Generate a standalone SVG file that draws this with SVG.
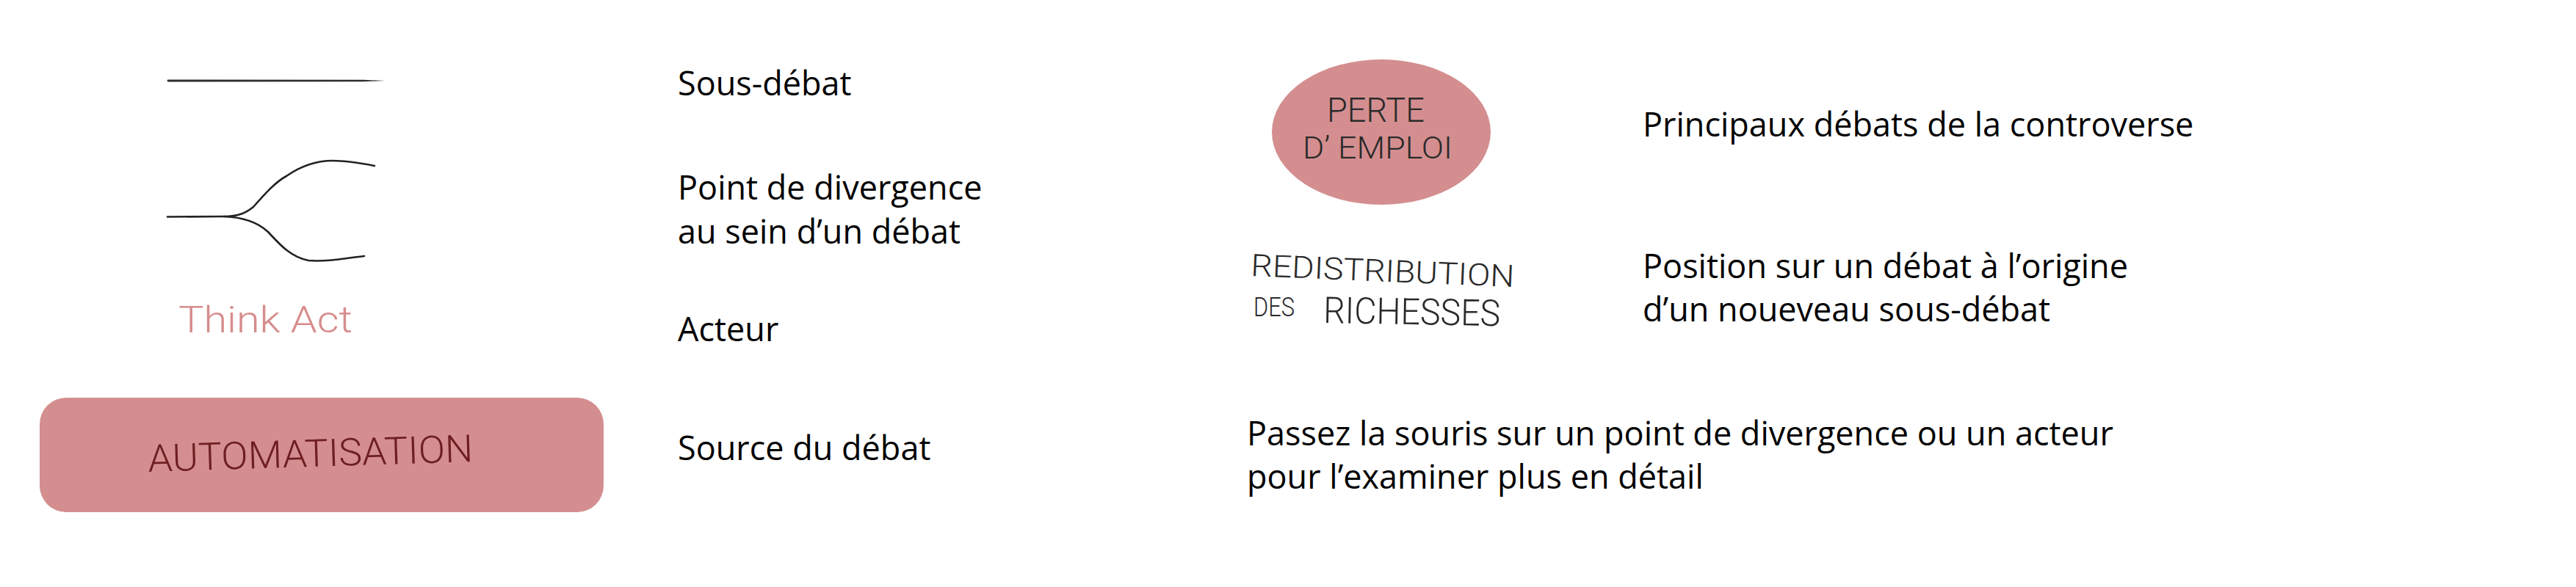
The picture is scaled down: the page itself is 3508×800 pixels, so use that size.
<svg xmlns="http://www.w3.org/2000/svg" width="3508" height="800" viewBox="0 0 3508 800">
<style>
.lbl{font-family:"Open Sans","Noto Sans","Liberation Sans",sans-serif;font-size:45px;fill:#000}
.hand{font-family:"Roboto","Open Sans","DejaVu Sans",sans-serif;font-weight:300}
.ink{fill:#2a2a2a}
.branch{fill:none;stroke:#222;stroke-width:2.6;stroke-linecap:round}
.pink{fill:#d48e8f}
</style>
<rect width="3508" height="800" fill="#fff"/>
<g id="connectors">
  <path id="sous-debat-line" d="M229,108.6 L495,108.8 L524,110 L495,111.2 L229,111.4 A1.4,1.4 0 0 1 229,108.6 Z" fill="#2e2e2e"/>
  <g id="divergence">
    <path class="branch" d="M228,295.5 L305,295 C325,295 335,290 345,282 C360,265 375,248 390,240 C410,226 430,219 453,219 C475,219 495,223 510,226"/>
    <path class="branch" d="M305,295 C330,296 350,302 365,316 C380,332 395,350 420,355 C445,357 470,352 496,349"/>
  </g>
</g>
<g id="actor-sample">
  <text class="hand" x="243" y="453" font-size="50" fill="#d78c8c" textLength="237" lengthAdjust="spacingAndGlyphs">Think Act</text>
</g>
<g id="source-sample">
  <rect class="pink" x="54" y="542" width="768" height="156" rx="36" ry="36"/>
  <text class="hand" x="202" y="643" font-size="52" fill="#6e1e22" textLength="443" lengthAdjust="spacingAndGlyphs" transform="rotate(-1.8 202 643)">AUTOMATISATION</text>
</g>
<g id="main-debate-sample">
  <ellipse class="pink" cx="1881" cy="180" rx="149" ry="99"/>
  <text class="hand ink" x="1807" y="166" font-size="46" textLength="133" lengthAdjust="spacingAndGlyphs">PERTE</text>
  <text class="hand ink" x="1774" y="216" font-size="42" textLength="204" lengthAdjust="spacingAndGlyphs">D’ EMPLOI</text>
</g>
<g id="position-sample">
  <text class="hand ink" x="1703" y="376" font-size="42" textLength="359" lengthAdjust="spacingAndGlyphs" transform="rotate(2.4 1703 376)">REDISTRIBUTION</text>
  <text class="hand ink" x="1707" y="431" font-size="36" textLength="56" lengthAdjust="spacingAndGlyphs">DES</text>
  <text class="hand ink" x="1802" y="440" font-size="50" textLength="241" lengthAdjust="spacingAndGlyphs" transform="rotate(1 1802 440)">RICHESSES</text>
</g>
<g id="legend-texts">
  <text class="lbl" x="923" y="130">Sous-débat</text>
  <text class="lbl" x="923" y="272">Point de divergence</text>
  <text class="lbl" x="923" y="332">au sein d’un débat</text>
  <text class="lbl" x="923" y="465">Acteur</text>
  <text class="lbl" x="923" y="627">Source du débat</text>
  <text class="lbl" x="2237" y="186">Principaux débats de la controverse</text>
  <text class="lbl" x="2237" y="379">Position sur un débat à l’origine</text>
  <text class="lbl" x="2237" y="438">d’un noueveau sous-débat</text>
  <text class="lbl" x="1698" y="607">Passez la souris sur un point de divergence ou un acteur</text>
  <text class="lbl" x="1698" y="666">pour l’examiner plus en détail</text>
</g>
</svg>
